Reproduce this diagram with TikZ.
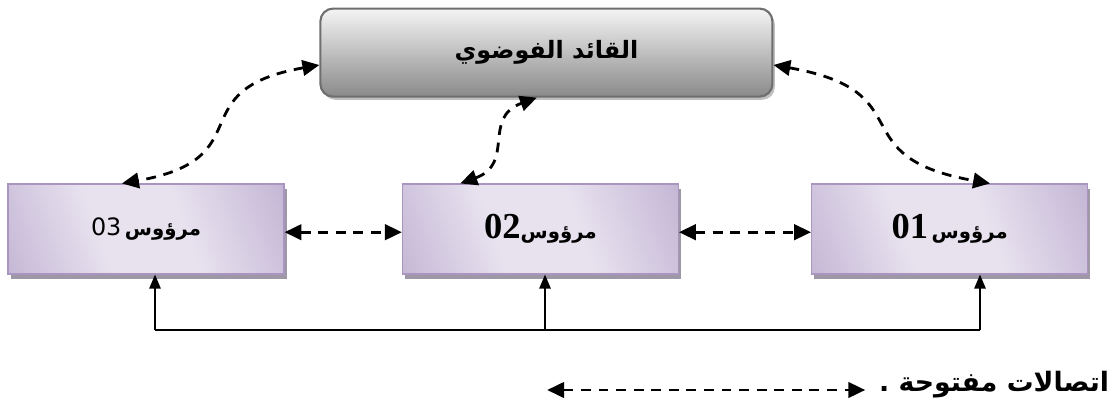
\documentclass[tikz,border=0pt]{standalone}
\usepackage{fontspec}
\setmainfont{Liberation Serif}
\newfontfamily\arabicfont[Script=Arabic]{DejaVu Sans}
\newfontfamily\digitsans{DejaVu Sans}
\TeXXeTstate=1
\usetikzlibrary{arrows.meta,shadows}
\definecolor{subdark}{HTML}{A996C1}
\definecolor{sublight}{HTML}{E8E2EF}
\definecolor{subline}{HTML}{A995C0}
\definecolor{subshadow}{HTML}{9D97A6}
\definecolor{leadlight}{HTML}{F4F4F4}
\definecolor{leaddark}{HTML}{8A8A8A}
\definecolor{leadline}{HTML}{6E6E6E}
\pgfdeclarehorizontalshading{subshade}{100bp}{color(0bp)=(subdark); color(40bp)=(sublight); color(58bp)=(sublight); color(100bp)=(subdark)}
\newcommand{\ar}[1]{{\arabicfont\bfseries\beginR #1\endR}}

\begin{document}
\begin{tikzpicture}[
  sub/.style={draw=subline,line width=0.8pt,shade,shading=subshade,shading angle=20,
              minimum width=6.9cm,minimum height=2.25cm,
              drop shadow={shadow xshift=0.07cm,shadow yshift=-0.12cm,fill=subshadow,opacity=1}},
  lead/.style={draw=leadline,line width=1.5pt,rounded corners=9pt,top color=leadlight,bottom color=leaddark,
               minimum width=11.3cm,minimum height=2.2cm,
               drop shadow={shadow xshift=0.06cm,shadow yshift=-0.08cm,fill=black!25,opacity=1}},
  link/.style={line width=2pt,dash pattern=on 7pt off 5.5pt,
               {Triangle[length=12pt,width=11pt]}-{Triangle[length=12pt,width=11pt]}},
  bus/.style={line width=1.4pt},
  busarr/.style={bus,-{Triangle[length=10pt,width=8pt]}}]
  \useasboundingbox (0,0) rectangle (27.975,10.125);

  \node[lead] (L) at (13.66,8.81) {\fontsize{17}{20}\selectfont\ar{القائد الفوضوي}};
  \node[sub] (S3) at (3.65,4.4) {{\fontsize{17}{20}\selectfont\digitsans 03}\ {\fontsize{14}{18}\selectfont\ar{مرؤوس}}};
  \node[sub] (S2) at (13.51,4.4) {{\fontsize{26}{28}\selectfont\bfseries 02}{\fontsize{14}{18}\selectfont\ar{مرؤوس}}};
  \node[sub] (S1) at (23.74,4.4) {{\fontsize{26}{28}\selectfont\bfseries 01}\ {\fontsize{14}{18}\selectfont\ar{مرؤوس}}};

  % links with the leader
  \draw[link] ([yshift=-0.31cm]L.west) to[out=190,in=10,looseness=1.6] ([xshift=-0.6cm]S3.north);
  \draw[link] ([xshift=-2cm]S2.north) to[out=20,in=200,looseness=1.3] ([xshift=-0.24cm]L.south);
  \draw[link] ([yshift=-0.31cm]L.east) to[out=-10,in=170,looseness=1.6] ([xshift=1.01cm]S1.north);

  % links between subordinates
  \draw[link] ([yshift=-0.08cm]S3.east) -- ([yshift=-0.08cm]S2.west);
  \draw[link] ([yshift=-0.08cm]S2.east) -- ([yshift=-0.08cm]S1.west);

  % common line below
  \coordinate (busL) at (3.875,1.875);
  \coordinate (busM) at (13.625,1.875);
  \coordinate (busR) at (24.5,1.875);
  \draw[bus] (busL) -- (busR);
  \draw[busarr] (busL) -- (busL |- S3.south);
  \draw[busarr] (busM) -- (busM |- S2.south);
  \draw[busarr] (busR) -- (busR |- S1.south);

  % legend
  \coordinate (legA) at (13.68,0.375);
  \coordinate (legB) at (21.63,0.375);
  \draw[link] (legA) -- (legB);
  \node[anchor=east] (legT) at (27.85,0.5) {\fontsize{19}{22}\selectfont\ar{اتصالات مفتوحة .}};
\end{tikzpicture}
\end{document}
